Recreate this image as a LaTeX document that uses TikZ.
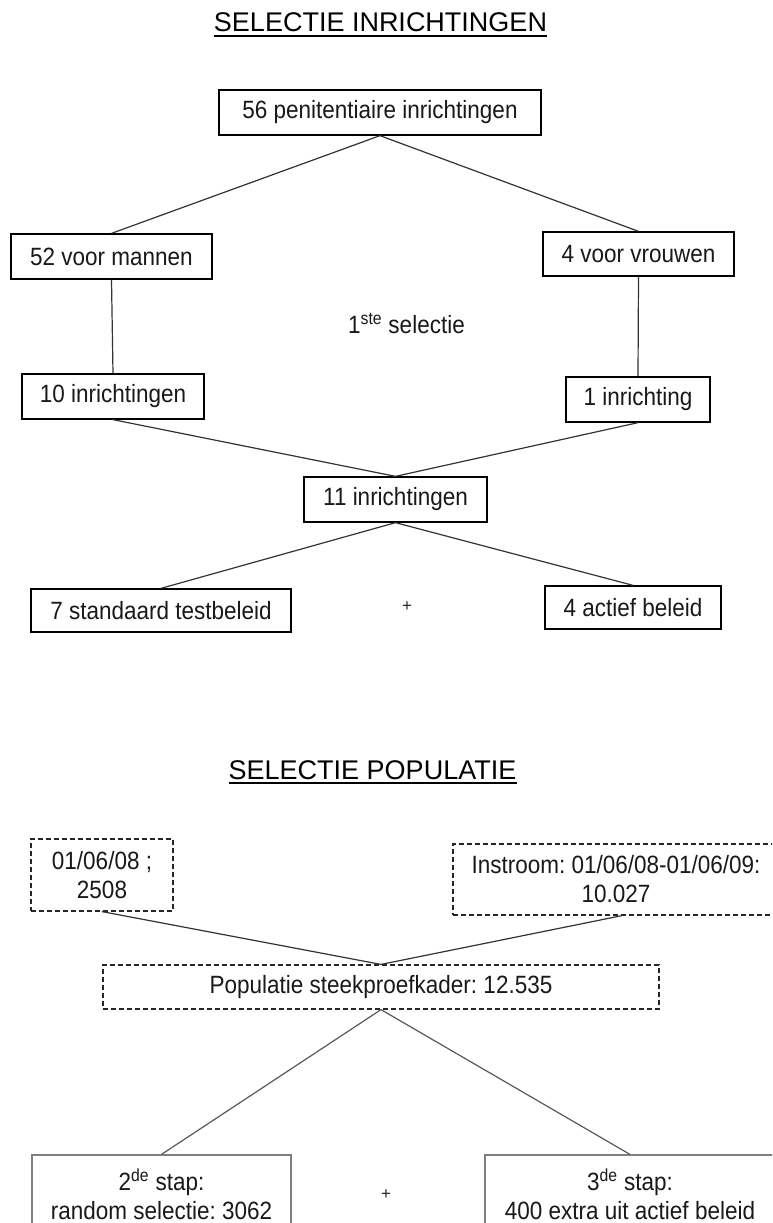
\documentclass[tikz,border=0pt]{standalone}
\usepackage{fontspec}
\setmainfont{Liberation Sans}
\newfontfamily\condfont[FakeStretch=0.9]{Liberation Sans}
\frenchspacing
\begin{document}
\begin{tikzpicture}[x=1pt,y=-1pt,
  box/.style={draw=black,line width=1.3pt,rectangle,inner sep=0pt,font=\condfont\fontsize{25}{29}\selectfont,text=black!90,align=center},
  dbox/.style={box,draw=black!85,dash pattern=on 5pt off 3pt,line width=1.2pt},
  gbox/.style={box,draw=black!50,line width=1.2pt},
  conn/.style={draw=black!80,line width=1.2pt},
  ttl/.style={inner sep=0pt,anchor=base,font=\fontsize{27}{30}\selectfont},
  lbl/.style={inner sep=0pt,text=black!90,font=\condfont\fontsize{25}{29}\selectfont},
  plus/.style={inner sep=0pt,text=black!85,font=\fontsize{17}{20}\selectfont}]
\useasboundingbox (0,0) rectangle (772,1223);
\clip (0,0) rectangle (772,1223);
\fill[white] (0,0) rectangle (772,1223);

% ---- part 1
\node[ttl] (t1) at (380.5,32) {SELECTIE INRICHTINGEN};
\draw[line width=1.3pt] ([yshift=-4pt]t1.base west) -- ([yshift=-4pt]t1.base east);

\node[box,minimum width=322pt,minimum height=45pt] (b56) at (380,112.5) {56 penitentiaire inrichtingen};
\node[box,minimum width=201pt,minimum height=45pt] (men) at (111.5,256.5) {52 voor mannen};
\node[box,minimum width=191pt,minimum height=44pt] (wom) at (638.5,254) {4 voor vrouwen};
\node[lbl] (sel) at (406.5,323) {1\textsuperscript{ste} selectie};
\node[box,minimum width=182pt,minimum height=45pt] (ten) at (113,396.5) {10 inrichtingen};
\node[box,minimum width=144pt,minimum height=45pt] (one) at (638,399.5) {1 inrichting};
\node[box,minimum width=183pt,minimum height=45pt] (elf) at (395.5,499.5) {11 inrichtingen};
\node[box,minimum width=260pt,minimum height=43pt] (sev) at (161,610.5) {7 standaard testbeleid};
\node[box,minimum width=176pt,minimum height=43pt] (act) at (633,607.5) {4 actief beleid};
\node[plus] (p1) at (407,607) {+};

\draw[conn] (b56.south) -- (men.north);
\draw[conn] (b56.south) -- (wom.north);
\draw[conn] (men.south) -- (ten.north);
\draw[conn] (wom.south) -- (one.north);
\draw[conn] (ten.south) -- (elf.north);
\draw[conn] (one.south) -- (elf.north);
\draw[conn] (elf.south) -- (sev.north);
\draw[conn] (elf.south) -- (act.north);

% ---- part 2
\node[ttl] (t2) at (372.5,779) {SELECTIE POPULATIE};
\draw[line width=1.3pt] ([yshift=-4pt]t2.base west) -- ([yshift=-4pt]t2.base east);

\node[dbox,minimum width=142pt,minimum height=72pt] (d1) at (102,875) {01/06/08 ;\\2508};
\node[dbox,minimum width=326pt,minimum height=71pt] (ins) at (616,879.5) {Instroom: 01/06/08-01/06/09:\\10.027};
\node[dbox,minimum width=556pt,minimum height=44pt] (pop) at (381,987) {Populatie steekproefkader: 12.535};
\node[gbox,minimum width=259pt,minimum height=78pt] (s2) at (161.5,1194) {2\textsuperscript{de} stap:\\random selectie: 3062};
\node[gbox,minimum width=290pt,minimum height=78pt] (s3) at (630,1194) {3\textsuperscript{de} stap:\\400 extra uit actief beleid};
\node[plus] (p2) at (386,1195) {+};

\draw[conn] (d1.south) -- (pop.north);
\draw[conn] ([xshift=6pt]ins.south) -- (pop.north);
\draw[conn,draw=black!65] (pop.south) -- (s2.north);
\draw[conn,draw=black!65] (pop.south) -- (s3.north);
\end{tikzpicture}
\end{document}
